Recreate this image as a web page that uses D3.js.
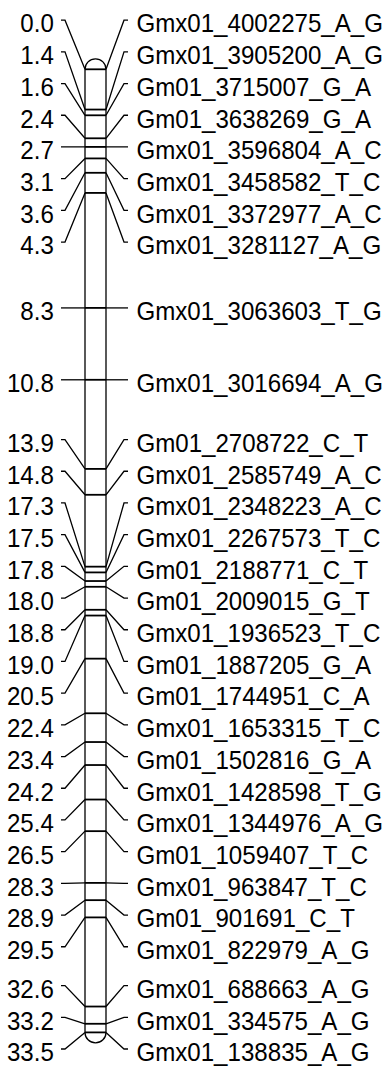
<!DOCTYPE html>
<html>
<head>
<meta charset="utf-8">
<script src="https://cdn.jsdelivr.net/npm/d3@7"></script>
<style>
  html, body { margin: 0; padding: 0; background: #fff; }
  svg { display: block; }
  text { font-family: "Liberation Sans", Arial, sans-serif; fill: #000; }
</style>
</head>
<body>
<svg id="chart" width="390" height="1067"></svg>
<script>
// Linkage group 01: marker positions (cM) and marker names
const positions = [0.0, 1.4, 1.6, 2.4, 2.7, 3.1, 3.6, 4.3, 8.3, 10.8,
  13.9, 14.8, 17.3, 17.5, 17.8, 18.0, 18.8, 19.0, 20.5, 22.4,
  23.4, 24.2, 25.4, 26.5, 28.3, 28.9, 29.5, 32.6, 33.2, 33.5];
const positionLabels = ["0.0", "1.4", "1.6", "2.4", "2.7", "3.1", "3.6", "4.3", "8.3", "10.8",
  "13.9", "14.8", "17.3", "17.5", "17.8", "18.0", "18.8", "19.0", "20.5", "22.4",
  "23.4", "24.2", "25.4", "26.5", "28.3", "28.9", "29.5", "32.6", "33.2", "33.5"];
const markerNames = [
  "Gmx01_4002275_A_G", "Gmx01_3905200_A_G", "Gm01_3715007_G_A", "Gm01_3638269_G_A",
  "Gmx01_3596804_A_C", "Gmx01_3458582_T_C", "Gmx01_3372977_A_C", "Gmx01_3281127_A_G",
  "Gmx01_3063603_T_G", "Gmx01_3016694_A_G", "Gm01_2708722_C_T", "Gmx01_2585749_A_C",
  "Gmx01_2348223_A_C", "Gmx01_2267573_T_C", "Gm01_2188771_C_T", "Gm01_2009015_G_T",
  "Gmx01_1936523_T_C", "Gm01_1887205_G_A", "Gm01_1744951_C_A", "Gmx01_1653315_T_C",
  "Gm01_1502816_G_A", "Gmx01_1428598_T_G", "Gmx01_1344976_A_G", "Gm01_1059407_T_C",
  "Gmx01_963847_T_C", "Gm01_901691_C_T", "Gmx01_822979_A_G", "Gmx01_688663_A_G",
  "Gmx01_334575_A_G", "Gmx01_138835_A_G"];

const svg = d3.select("#chart");
const fontSize = 26.5;
const squeeze = 0.91;      // narrow the label glyphs horizontally
const baselineShift = 12.3;

// vertical map scale (cM -> px)
const y = d3.scaleLinear()
  .domain([0, d3.max(positions)])
  .range([69.3, 1032.4]);

// chromosome bar geometry
const barL = 85, barR = 106, r = (barR - barL) / 2;
const tickOuterL = 61, tickInnerL = 65;   // left label tick
const tickInnerR = 124, tickOuterR = 128; // right label tick
const textEndL = 53.8, textStartR = 136.4;

// Spread labels so they keep a minimum gap, centring each cluster
// on the span of its markers and keeping it inside the drawing area.
function spreadLabels(targets, gap, lo, hi) {
  let groups = targets.map((t, i) => ({ idx: [i], tmin: t, tmax: t }));
  const place = g => {
    const n = g.idx.length;
    let start = (g.tmin + g.tmax) / 2 - (n - 1) * gap / 2;
    start = Math.max(lo, Math.min(hi - (n - 1) * gap, start));
    g.start = start;
    g.end = start + (n - 1) * gap;
  };
  groups.forEach(place);
  let merged = true;
  while (merged) {
    merged = false;
    for (let i = 1; i < groups.length; i++) {
      const a = groups[i - 1], b = groups[i];
      if (b.start - a.end < gap - 1e-6) {
        const g = { idx: a.idx.concat(b.idx), tmin: a.tmin, tmax: b.tmax };
        place(g);
        groups.splice(i - 1, 2, g);
        merged = true;
        break;
      }
    }
  }
  const out = new Array(targets.length);
  groups.forEach(g => g.idx.forEach((k, j) => { out[k] = g.start + j * gap; }));
  return out;
}

const markerY = positions.map(p => y(p));
const labelY = spreadLabels(markerY, 31.7, 20, 1049);

const data = positions.map((p, i) => ({
  pos: p, text: positionLabels[i], name: markerNames[i], my: markerY[i], ly: labelY[i]
}));

// chromosome outline with rounded ends
const barTop = y(0), barBottom = y(d3.max(positions));
const outline = d3.path();
outline.moveTo(barL, barTop);
outline.arc(barL + r, barTop, r, Math.PI, 0);
outline.lineTo(barR, barBottom);
outline.arc(barL + r, barBottom, r, 0, Math.PI);
outline.closePath();
svg.append("path")
  .attr("d", outline.toString())
  .attr("fill", "#fff")
  .attr("stroke", "#000")
  .attr("stroke-width", 1.3);

// marker bands across the bar
svg.append("g").selectAll("line").data(data).join("line")
  .attr("x1", barL).attr("x2", barR)
  .attr("y1", d => d.my).attr("y2", d => d.my)
  .attr("stroke", "#000").attr("stroke-width", 1.8);

// connectors from labels to bar, both sides
const connectors = svg.append("g")
  .attr("fill", "none").attr("stroke", "#000").attr("stroke-width", 1.3);
connectors.selectAll("path.left").data(data).join("path")
  .attr("class", "left")
  .attr("d", d => d3.line()([[tickOuterL, d.ly], [tickInnerL, d.ly], [barL, d.my]]));
connectors.selectAll("path.right").data(data).join("path")
  .attr("class", "right")
  .attr("d", d => d3.line()([[barR, d.my], [tickInnerR, d.ly], [tickOuterR, d.ly]]));

// position labels (cM) on the left
svg.append("g").selectAll("text").data(data).join("text")
  .attr("transform", d => `translate(${textEndL},${d.ly + baselineShift}) scale(${squeeze},1)`)
  .attr("text-anchor", "end")
  .attr("font-size", fontSize)
  .text(d => d.text);

// marker names on the right
svg.append("g").selectAll("text").data(data).join("text")
  .attr("transform", d => `translate(${textStartR},${d.ly + baselineShift}) scale(${squeeze},1)`)
  .attr("font-size", fontSize)
  .text(d => d.name);
</script>
</body>
</html>
